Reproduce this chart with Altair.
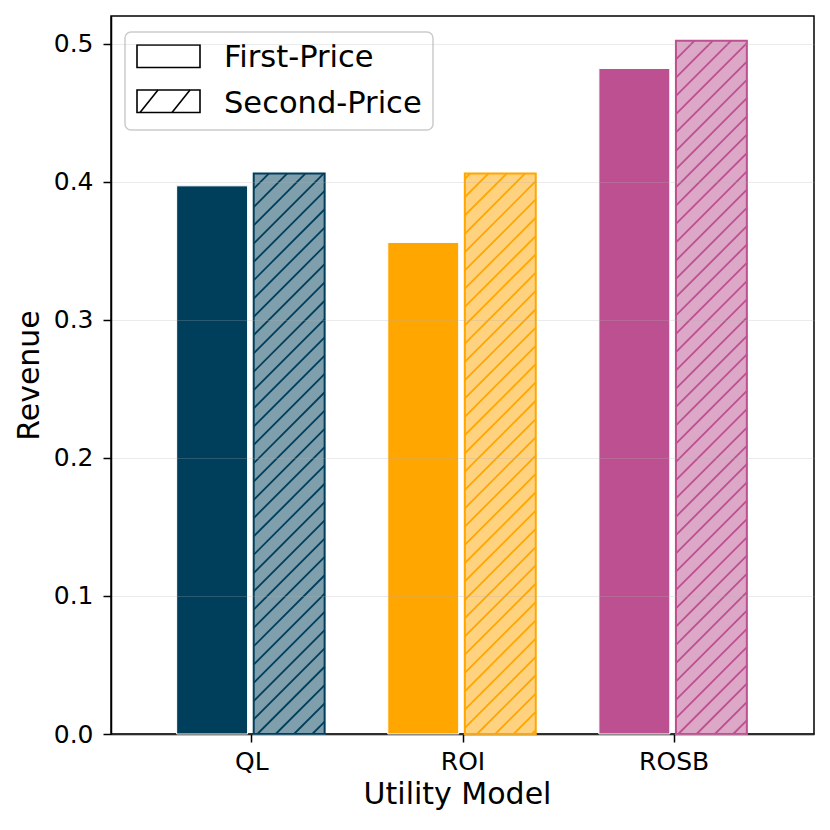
import json
import math
import altair as alt
import pandas as pd

# ---- data ----
categories = ["QL", "ROI", "ROSB"]
auctions = ["First-Price", "Second-Price"]
first_price = [0.397, 0.356, 0.482]
second_price = [0.406, 0.406, 0.502]
colors = ["#003f5c", "#ffa600", "#bc5090"]
light_colors = ["#7f9fad", "#ffd27f", "#dda7c7"]
y_ticks = [0.0, 0.1, 0.2, 0.3, 0.4, 0.5]

# ---- layout / style constants ----
W, H = 703, 718
XDOM = [-0.665, 2.665]
YDOM = [0, 0.52]
BAR_W = 0.336
OFFS = [-0.186, 0.179]
HATCH_STEP = 18.3  # px
FONT = "DejaVu Sans"

rows = []
for i, cat in enumerate(categories):
    for j, (auc, vals) in enumerate(zip(auctions, [first_price, second_price])):
        x0 = i + OFFS[j] - BAR_W / 2
        rows.append(dict(cat=cat, auction=auc, x0=x0, x1=x0 + BAR_W,
                         value=vals[i], base=0.0, edge=colors[i],
                         fill=[colors, light_colors][j][i]))
bars = pd.DataFrame(rows)

# hatch segments (45 degrees in screen space) inside the second-price bars
px = W / (XDOM[1] - XDOM[0])
py = H / (YDOM[1] - YDOM[0])
segs = []
for r in rows:
    if r["auction"] != auctions[1]:
        continue
    X0 = (r["x0"] - XDOM[0]) * px
    X1 = (r["x1"] - XDOM[0]) * px
    Hh = r["value"] * py
    for k in range(math.floor((X0 - Hh) / HATCH_STEP) - 1, math.ceil(X1 / HATCH_STEP) + 2):
        c = k * HATCH_STEP
        xs = max(X0, c)
        ys = xs - c
        xe = min(X1, Hh + c)
        ye = xe - c
        if xe - xs > 0.5 and ys < Hh:
            segs.append(dict(x=xs / px + XDOM[0], x2=xe / px + XDOM[0],
                             y=ys / py, y2=ye / py, edge=r["edge"]))
hatch_df = pd.DataFrame(segs)

xscale = alt.Scale(domain=XDOM, nice=False, zero=False)
yscale = alt.Scale(domain=YDOM, nice=False)
xaxis = alt.Axis(values=[0, 1, 2], labelExpr=json.dumps(categories) + "[datum.value]",
                 grid=False, labelBaseline="alphabetic", labelPadding=27,
                 titleX=346, titleAlign="center",
                 titleY=69, titleBaseline="alphabetic")
yaxis = alt.Axis(values=y_ticks, format=".1f", grid=True, gridColor="#b0b0b0",
                 gridOpacity=0.25, labelPadding=10, zindex=1,
                 titleX=-73, titleY=359, titleAngle=270, titleAlign="center",
                 titleBaseline="alphabetic")
XT, YT = "Utility Model", "Revenue"

first_layer = alt.Chart(bars).transform_filter(
    alt.datum.auction == auctions[0]
).mark_rect(stroke="white", strokeWidth=1).encode(
    x=alt.X("x0:Q", scale=xscale, axis=xaxis, title=XT),
    x2="x1:Q",
    y=alt.Y("value:Q", scale=yscale, axis=yaxis, title=YT),
    y2="base:Q",
    color=alt.Color("fill:N", scale=None),
)

second_fill = alt.Chart(bars).transform_filter(
    alt.datum.auction == auctions[1]
).mark_rect(strokeWidth=0).encode(
    x=alt.X("x0:Q", scale=xscale, title=XT),
    x2="x1:Q",
    y=alt.Y("value:Q", scale=yscale, title=YT),
    y2="base:Q",
    color=alt.Color("fill:N", scale=None),
)

hatch = alt.Chart(hatch_df).mark_rule(strokeWidth=1.8).encode(
    x=alt.X("x:Q", scale=xscale, title=XT),
    x2="x2:Q",
    y=alt.Y("y:Q", scale=yscale, title=YT),
    y2="y2:Q",
    color=alt.Color("edge:N", scale=None),
)

second_edge = alt.Chart(bars).transform_filter(
    alt.datum.auction == auctions[1]
).mark_rect(fillOpacity=0, strokeWidth=2).encode(
    x=alt.X("x0:Q", scale=xscale, title=XT),
    x2="x1:Q",
    y=alt.Y("value:Q", scale=yscale, title=YT),
    y2="base:Q",
    stroke=alt.Stroke("edge:N", scale=None),
)

# ---- legend drawn by hand (hatched symbol) ----
one = pd.DataFrame({"k": [0]})
leg_box = alt.Chart(one).mark_rect(
    cornerRadius=6, fill="white", fillOpacity=0.8, stroke="#cccccc", strokeWidth=1.5
).encode(x=alt.value(14), x2=alt.value(322), y=alt.value(16), y2=alt.value(114))
leg_p1 = alt.Chart(one).mark_rect(fill="white", stroke="black", strokeWidth=1.6).encode(
    x=alt.value(26), x2=alt.value(89), y=alt.value(29), y2=alt.value(51.5))
leg_p2 = alt.Chart(one).mark_rect(fill="white", stroke="black", strokeWidth=1.6).encode(
    x=alt.value(26), x2=alt.value(89), y=alt.value(74), y2=alt.value(96.5))
leg_h1 = alt.Chart(one).mark_rule(stroke="black", strokeWidth=1.6).encode(
    x=alt.value(29), x2=alt.value(47), y=alt.value(96.5), y2=alt.value(74))
leg_h2 = alt.Chart(one).mark_rule(stroke="black", strokeWidth=1.6).encode(
    x=alt.value(61), x2=alt.value(79), y=alt.value(96.5), y2=alt.value(74))
leg_t1 = alt.Chart(one).mark_text(align="left", baseline="alphabetic", fontSize=30.5,
                                  font=FONT, color="black").encode(
    x=alt.value(113), y=alt.value(51), text=alt.value(auctions[0]))
leg_t2 = alt.Chart(one).mark_text(align="left", baseline="alphabetic", fontSize=30.5,
                                  font=FONT, color="black").encode(
    x=alt.value(113), y=alt.value(96.5), text=alt.value(auctions[1]))

chart = alt.layer(
    first_layer, second_fill, hatch, second_edge,
    leg_box, leg_p1, leg_p2, leg_h1, leg_h2, leg_t1, leg_t2,
).properties(
    width=W, height=H,
    autosize=alt.AutoSizeParams(type="none"),
    padding={"left": 103, "top": 8, "right": 5, "bottom": 80},
    background="white",
).configure_view(
    stroke="black", strokeWidth=1.5
).configure_axis(
    labelFont=FONT, labelFontSize=25, labelColor="black",
    titleFont=FONT, titleFontSize=30, titleFontWeight="normal", titleColor="black",
    tickColor="black", tickSize=8, tickWidth=1.5,
    domainColor="black", domainWidth=1.5,
)

chart.save("out.html", embed_options={"renderer": "svg", "actions": False})
